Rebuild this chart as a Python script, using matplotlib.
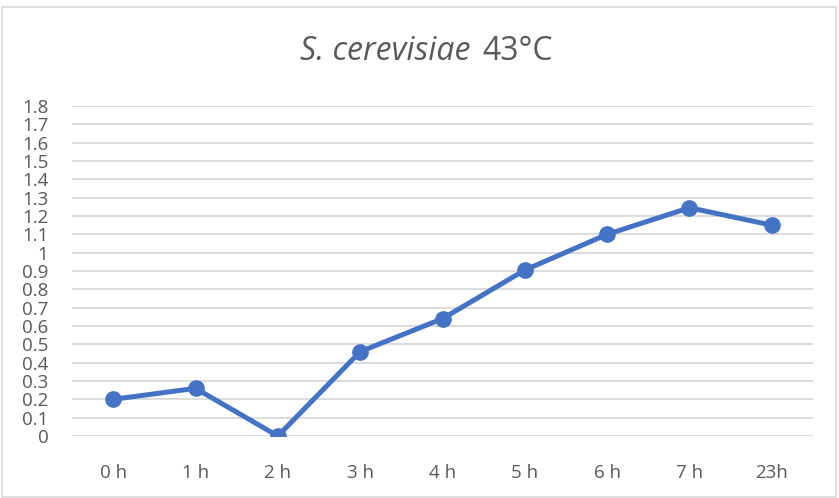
import matplotlib
matplotlib.use("Agg")
from matplotlib import pyplot as plt
from matplotlib.patches import Rectangle

labels = ["0 h", "1 h", "2 h", "3 h", "4 h", "5 h", "6 h", "7 h", "23h"]
values = [0.20, 0.26, 0.0, 0.46, 0.64, 0.905, 1.10, 1.245, 1.15]
yticks = [round(i * 0.1, 1) for i in range(19)]
ytick_labels = ["0" if t == 0 else ("1" if t == 1 else f"{t:g}") for t in yticks]

plt.rcParams["font.family"] = ["Open Sans", "DejaVu Sans"]
grey = "#595959"

fig = plt.figure(figsize=(8.39, 4.98), dpi=100)
fig.patches.append(Rectangle((2 / 839, 1 / 498), 834 / 839, 490 / 498, transform=fig.transFigure,
                             fill=False, edgecolor="#D9D9D9", linewidth=1.2))
ax = fig.add_axes([72 / 839, 62 / 498, 741 / 839, 330 / 498])

x = list(range(len(labels)))
ax.plot(x, values, color="#4472C4", linewidth=3.6, marker="o", markersize=11, zorder=3,
        solid_capstyle="round")

ax.set_xlim(-0.5, len(labels) - 0.5)
ax.set_ylim(0, 1.8)
ax.set_yticks(yticks)
ax.set_yticklabels(ytick_labels)
ax.set_xticks(x)
ax.set_xticklabels(labels)
ax.tick_params(axis="both", length=0, labelsize=13.5, colors=grey)
ax.tick_params(axis="y", pad=17)
ax.tick_params(axis="x", pad=20)
ax.grid(axis="y", color="#D9D9D9", linewidth=1.3)
for s in ax.spines.values():
    s.set_visible(False)
ax.set_axisbelow(True)

# title: italic species name + plain temperature
fig.text(471 / 839, 1 - 52 / 498, "S. cerevisiae", ha="right", va="center",
         fontsize=23, color=grey, fontstyle="italic")
fig.text(482 / 839, 1 - 52 / 498, "43°C", ha="left", va="center",
         fontsize=23, color=grey)

fig.savefig("out.png", dpi=100)
